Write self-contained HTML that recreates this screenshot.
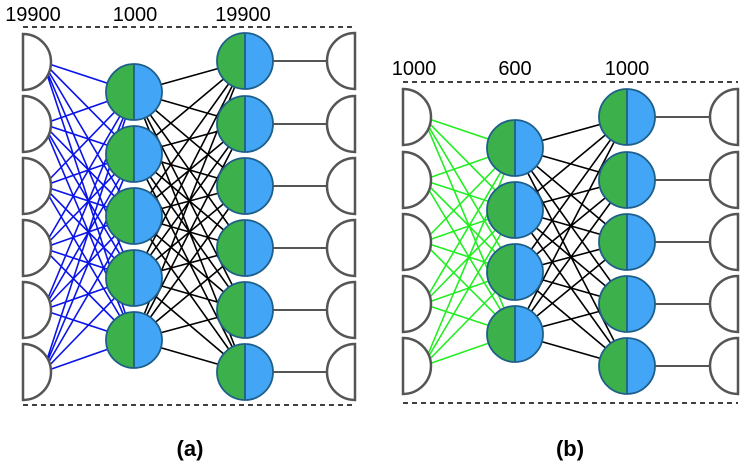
<!DOCTYPE html>
<html><head><style>body{margin:0;background:#fff}svg{display:block}</style></head><body>
<svg width="743" height="466" xmlns="http://www.w3.org/2000/svg" xmlns:xlink="http://www.w3.org/1999/xlink" font-family="Liberation Sans, sans-serif">
<defs>
<g id="n">
<path d="M0 -28 A28 28 0 0 0 0 28 Z" fill="#3cb04a"/>
<path d="M0 -28 A28 28 0 0 1 0 28 Z" fill="#42a5f5"/>
<circle cx="0" cy="0" r="28" fill="none" stroke="#1e5f8a" stroke-width="1.8"/>
<line x1="0" y1="-28" x2="0" y2="28" stroke="#1e5f8a" stroke-width="1.8"/>
</g>
<path id="li" d="M0 -28 A28 28 0 0 1 0 28 Z" fill="#fff" stroke="#555" stroke-width="2.5"/>
<path id="ri" d="M0 -28 A28 28 0 0 0 0 28 Z" fill="#fff" stroke="#555" stroke-width="2.5"/>
</defs>
<g stroke="#000" stroke-width="1.5" stroke-dasharray="5,4">
<line x1="23" y1="27" x2="355" y2="27"/><line x1="23" y1="405" x2="355" y2="405"/>
<line x1="403" y1="82" x2="738" y2="82"/><line x1="403" y1="403" x2="738" y2="403"/>
</g>
<path fill="none" stroke="#0a14e6" stroke-width="1.6" d="M43 62L134 92M43 62L134 154M43 62L134 216M43 62L134 278M43 62L134 340
M43 124L134 92M43 124L134 154M43 124L134 216M43 124L134 278M43 124L134 340
M43 186L134 92M43 186L134 154M43 186L134 216M43 186L134 278M43 186L134 340
M43 248L134 92M43 248L134 154M43 248L134 216M43 248L134 278M43 248L134 340
M43 310L134 92M43 310L134 154M43 310L134 216M43 310L134 278M43 310L134 340
M43 372L134 92M43 372L134 154M43 372L134 216M43 372L134 278M43 372L134 340"/>
<path fill="none" stroke="#000" stroke-width="1.6" d="M134 92L245 61M134 92L245 124M134 92L245 186M134 92L245 248M134 92L245 310M134 92L245 372
M134 154L245 61M134 154L245 124M134 154L245 186M134 154L245 248M134 154L245 310M134 154L245 372
M134 216L245 61M134 216L245 124M134 216L245 186M134 216L245 248M134 216L245 310M134 216L245 372
M134 278L245 61M134 278L245 124M134 278L245 186M134 278L245 248M134 278L245 310M134 278L245 372
M134 340L245 61M134 340L245 124M134 340L245 186M134 340L245 248M134 340L245 310M134 340L245 372"/>
<path fill="none" stroke="#555" stroke-width="2" d="M245 61H327M245 124H327M245 186H327M245 248H327M245 310H327M245 372H327"/>
<path fill="none" stroke="#22ee22" stroke-width="1.6" d="M423 117L515 148M423 117L515 210M423 117L515 272M423 117L515 334
M423 180L515 148M423 180L515 210M423 180L515 272M423 180L515 334
M423 242L515 148M423 242L515 210M423 242L515 272M423 242L515 334
M423 304L515 148M423 304L515 210M423 304L515 272M423 304L515 334
M423 366L515 148M423 366L515 210M423 366L515 272M423 366L515 334"/>
<path fill="none" stroke="#000" stroke-width="1.6" d="M515 148L627 117M515 148L627 180M515 148L627 242M515 148L627 304M515 148L627 366
M515 210L627 117M515 210L627 180M515 210L627 242M515 210L627 304M515 210L627 366
M515 272L627 117M515 272L627 180M515 272L627 242M515 272L627 304M515 272L627 366
M515 334L627 117M515 334L627 180M515 334L627 242M515 334L627 304M515 334L627 366"/>
<path fill="none" stroke="#555" stroke-width="2" d="M627 117H710M627 180H710M627 242H710M627 304H710M627 366H710"/>
<g>
<use xlink:href="#li" x="23" y="62"/><use xlink:href="#li" x="23" y="124"/><use xlink:href="#li" x="23" y="186"/>
<use xlink:href="#li" x="23" y="248"/><use xlink:href="#li" x="23" y="310"/><use xlink:href="#li" x="23" y="372"/>
<use xlink:href="#ri" x="355" y="61"/><use xlink:href="#ri" x="355" y="124"/><use xlink:href="#ri" x="355" y="186"/>
<use xlink:href="#ri" x="355" y="248"/><use xlink:href="#ri" x="355" y="310"/><use xlink:href="#ri" x="355" y="372"/>
<use xlink:href="#li" x="403" y="117"/><use xlink:href="#li" x="403" y="180"/><use xlink:href="#li" x="403" y="242"/>
<use xlink:href="#li" x="403" y="304"/><use xlink:href="#li" x="403" y="366"/>
<use xlink:href="#ri" x="738" y="117"/><use xlink:href="#ri" x="738" y="180"/><use xlink:href="#ri" x="738" y="242"/>
<use xlink:href="#ri" x="738" y="304"/><use xlink:href="#ri" x="738" y="366"/>
</g>
<g>
<use xlink:href="#n" x="134" y="92"/><use xlink:href="#n" x="134" y="154"/><use xlink:href="#n" x="134" y="216"/>
<use xlink:href="#n" x="134" y="278"/><use xlink:href="#n" x="134" y="340"/>
<use xlink:href="#n" x="245" y="61"/><use xlink:href="#n" x="245" y="124"/><use xlink:href="#n" x="245" y="186"/>
<use xlink:href="#n" x="245" y="248"/><use xlink:href="#n" x="245" y="310"/><use xlink:href="#n" x="245" y="372"/>
<use xlink:href="#n" x="515" y="148"/><use xlink:href="#n" x="515" y="210"/><use xlink:href="#n" x="515" y="272"/>
<use xlink:href="#n" x="515" y="334"/>
<use xlink:href="#n" x="627" y="117"/><use xlink:href="#n" x="627" y="180"/><use xlink:href="#n" x="627" y="242"/>
<use xlink:href="#n" x="627" y="304"/><use xlink:href="#n" x="627" y="366"/>
</g>
<g text-anchor="middle" font-size="20">
<text x="33" y="21">19900</text><text x="135" y="21">1000</text><text x="243" y="21">19900</text>
<text x="414" y="75">1000</text><text x="515" y="75">600</text><text x="627" y="75">1000</text>
</g>
<g text-anchor="middle" font-size="22" font-weight="700">
<text x="190" y="456">(a)</text><text x="570" y="456">(b)</text>
</g>
</svg>
</body></html>
